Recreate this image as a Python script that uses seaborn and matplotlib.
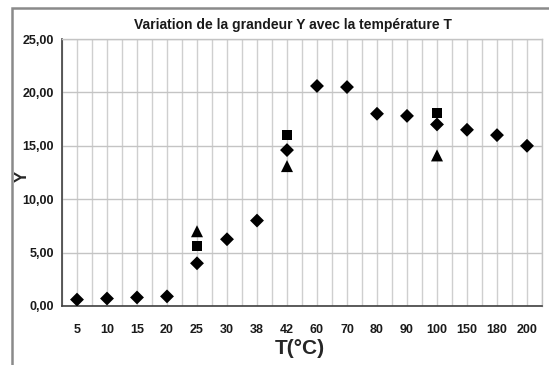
import matplotlib
matplotlib.use("Agg")
import matplotlib.pyplot as plt
import seaborn as sns
import pandas as pd
from matplotlib.ticker import FuncFormatter, FixedLocator
from matplotlib.patches import Rectangle

# ---- data ----
temps = ["5", "10", "15", "20", "25", "30", "38", "42", "60", "70", "80", "90", "100", "150", "180", "200"]
y_diamond = [0.6, 0.7, 0.8, 0.9, 4.0, 6.25, 8.0, 14.6, 20.6, 20.5, 18.0, 17.8, 17.0, 16.5, 16.0, 15.0]
sq_temps = ["25", "42", "100"]
y_square = [5.6, 16.0, 18.1]
tri_temps = ["25", "42", "100"]
y_triangle = [7.0, 13.1, 14.1]

title = "Variation de la grandeur Y avec la température T"
xlabel = "T(°C)"
ylabel = "Y"
yticks = [0, 5, 10, 15, 20, 25]

df = pd.concat([
    pd.DataFrame({"T": temps, "Y": y_diamond, "serie": "A"}),
    pd.DataFrame({"T": sq_temps, "Y": y_square, "serie": "B"}),
    pd.DataFrame({"T": tri_temps, "Y": y_triangle, "serie": "C"}),
], ignore_index=True)

sns.set_style("white")
fam = ["Liberation Sans Narrow", "Liberation Sans", "DejaVu Sans"]
plt.rcParams["font.family"] = fam

fig = plt.figure(figsize=(5.49, 3.65), dpi=100)
ax = fig.add_axes([62 / 549, 1 - 306 / 365, (542 - 62) / 549, (306 - 39) / 365])

sns.scatterplot(data=df, x="T", y="Y", style="serie", size="serie",
                markers={"A": "D", "B": "s", "C": "^"},
                sizes={"A": 50, "B": 55, "C": 75},
                color="black", edgecolor="black",
                linewidth=0, legend=False, ax=ax, zorder=3)

n = len(temps)
ax.set_xlim(-0.5, n - 0.5)
ax.set_ylim(0, 25)
ax.yaxis.set_major_locator(FixedLocator(yticks))
ax.yaxis.set_major_formatter(FuncFormatter(lambda v, p: f"{v:.2f}".replace(".", ",")))

ax.xaxis.set_minor_locator(FixedLocator([i + 0.5 for i in range(-1, n)]))
ax.tick_params(axis="x", which="major", length=0, pad=13, labelsize=9)
ax.tick_params(axis="x", which="minor", length=4, width=1, color="#404040", direction="out")
ax.tick_params(axis="y", which="major", length=4, width=1, color="#404040", direction="out", labelsize=9, pad=2)
for lab in ax.get_xticklabels() + ax.get_yticklabels():
    lab.set_fontweight("bold")
    lab.set_color("#1a1a1a")

ax.grid(True, which="both", axis="x", color="#cfcfcf", linewidth=1)
ax.grid(True, which="major", axis="y", color="#c4c4c4", linewidth=1)
ax.set_axisbelow(True)

for s in ["left", "bottom"]:
    ax.spines[s].set_color("#404040")
    ax.spines[s].set_linewidth(1.2)
for s in ["top", "right"]:
    ax.spines[s].set_color("#c4c4c4")
    ax.spines[s].set_linewidth(1)

ax.set_xlabel(xlabel, fontsize=15, fontweight="bold")
ax.xaxis.set_label_coords((300 - 62) / 480, -(348 - 306) / 267)
ax.xaxis.label.set_va("center")
ax.set_ylabel(ylabel, fontsize=12, fontweight="bold")
ax.yaxis.set_label_coords((22 - 62) / 480, (306 - 176) / 267)
ax.yaxis.label.set_va("center")
fig.text(293 / 549, 1 - 25 / 365, title, ha="center", va="center",
         fontsize=10, fontweight="bold", color="#1a1a1a")

fig.patches.append(Rectangle((12 / 549, -0.1), 1.2, 1 - 8 / 365 + 0.1,
                             transform=fig.transFigure, fill=False,
                             edgecolor="#8a8a8a", linewidth=1.8))

fig.savefig("out.png", dpi=100)
